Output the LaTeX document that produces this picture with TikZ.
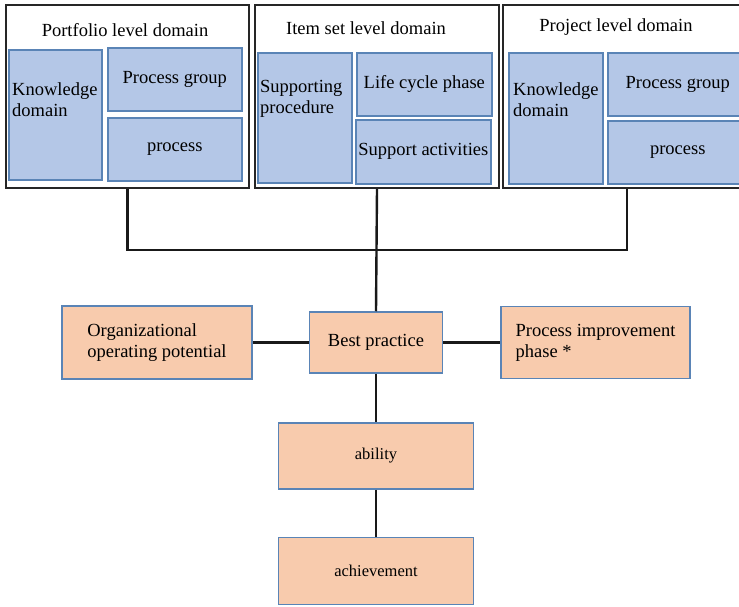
\documentclass[tikz,border=0pt]{standalone}
\usepackage{fontspec}
\setmainfont{Liberation Serif}
\definecolor{bluefill}{HTML}{B4C7E7}
\definecolor{bluerim}{HTML}{5A84B6}
\definecolor{orangefill}{HTML}{F8CBAD}
\begin{document}
\begin{tikzpicture}[x=1pt,y=-1pt,
    every node/.style={font=\fontsize{18.5}{21}\selectfont},
    domainbox/.style={draw=black!85, line width=2pt, anchor=north west, inner sep=0pt},
    bluebox/.style={draw=bluerim, fill=bluefill, line width=1.6pt, anchor=north west, inner sep=0pt},
    orangebox/.style={draw=bluerim, fill=orangefill, line width=1.5pt, inner sep=0pt, align=left},
    tagtext/.style={anchor=north west, align=left, inner sep=0pt},
    link/.style={line width=2.4pt, black!90}]
	\useasboundingbox (0,0) rectangle (739,607);

	% top domains
	\node[domainbox, minimum width=243, minimum height=183] (pf) at (5,4) {};
	\node (pft) at (125,30) {Portfolio level domain};
	\node[bluebox, minimum width=93, minimum height=130] (pfkd) at (8,49) {};
	\node[tagtext] (pfkdt) at ([shift={(4,33)}]pfkd.north west) {Knowledge\\domain};
	\node[bluebox, minimum width=134, minimum height=63] (pfpg) at (107,47) {Process group};
	\node[bluebox, minimum width=134, minimum height=63] (pfpr) at (107,117) {process};

	\node[domainbox, minimum width=244, minimum height=183] (it) at (254,4) {};
	\node (itt) at (366,28) {Item set level domain};
	\node[bluebox, minimum width=94, minimum height=130] (itsp) at (257,52) {};
	\node[tagtext] (itspt) at ([shift={(3,28)}]itsp.north west) {Supporting\\procedure};
	\node[bluebox, minimum width=135, minimum height=63] (itlc) at (356,52) {Life cycle phase};
	\node[bluebox, minimum width=135, minimum height=64] (itsa) at (355,119) {Support activities};

	\node[domainbox, minimum width=248, minimum height=183] (pj) at (502,4) {};
	\node (pjt) at (616,27) {Project level domain};
	\node[bluebox, minimum width=94, minimum height=131] (pjkd) at (508,52) {};
	\node[tagtext] (pjkdt) at ([shift={(5,30)}]pjkd.north west) {Knowledge\\domain};
	\node[bluebox, minimum width=140, minimum height=63] (pjpg) at (607,52) {Process group};
	\node[bluebox, minimum width=140, minimum height=63] (pjpr) at (607,120) {process};

	% lower chain
	\node[orangebox, minimum width=190, minimum height=73] (org) at (157,342.5) {Organizational\\operating potential};
	\node[orangebox, minimum width=133, minimum height=61] (best) at (376,342.5) {Best practice};
	\node[orangebox, minimum width=189, minimum height=72] (pi) at (595.5,342.5) {Process improvement\\phase *};
	\node[orangebox, minimum width=195, minimum height=66, font=\fontsize{16.5}{19}\selectfont] (abl) at (376,456) {ability};
	\node[orangebox, minimum width=195, minimum height=67, font=\fontsize{16.5}{19}\selectfont] (ach) at (376,571) {achievement};

	% connectors
	\coordinate (bus) at (376,250);
	\draw[link] (pf.south) |- (bus) -| (pj.south);
	\draw[link] (it.south) -- (best.north);
	\draw[link] (org) -- (best);
	\draw[link] (best) -- (pi);
	\draw[link] (best) -- (abl);
	\draw[link] (abl) -- (ach);
\end{tikzpicture}
\end{document}
